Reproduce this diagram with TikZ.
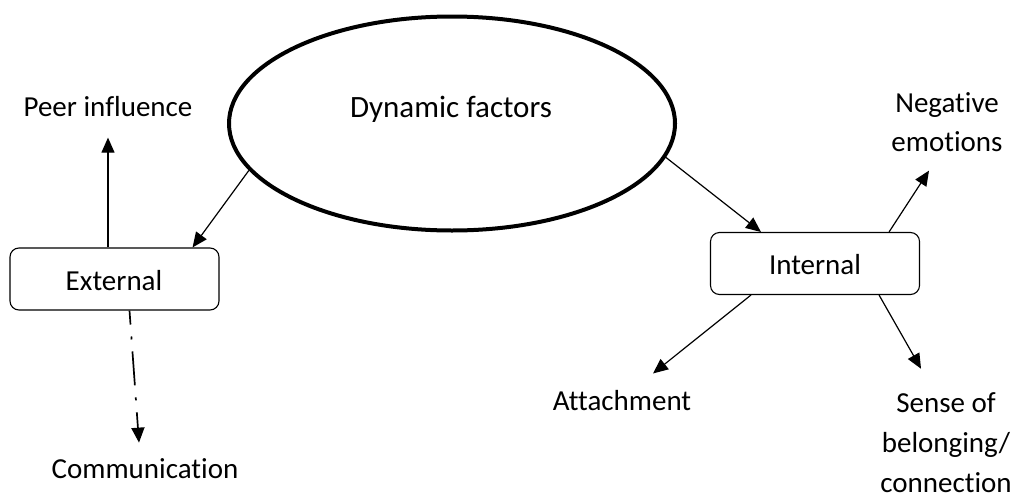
\documentclass[tikz,border=0pt]{standalone}
\usepackage{fontspec}
\setmainfont[Ligatures=NoCommon]{Carlito}
\usetikzlibrary{shapes.geometric,arrows.meta}
\begin{document}
\begin{tikzpicture}[x=0.5pt,y=-0.5pt,
  lbl/.style={inner sep=0pt,font=\fontsize{14.5}{19.5}\selectfont,align=center},
  boxn/.style={draw,line width=0.55pt,rounded corners=4.5pt,minimum width=104.5pt,minimum height=31pt,inner sep=0pt,font=\fontsize{14.5}{17}\selectfont},
  arr/.style={line width=0.6pt,-{Triangle[length=7.5pt,width=6.5pt]}},
  dashdot/.style={line width=0.85pt,dash pattern=on 17pt off 6pt on 1.5pt off 6pt,dash phase=10pt}]
\useasboundingbox (0,0) rectangle (1015,498);
% central ellipse
\node[ellipse,draw,line width=2pt,minimum width=223pt,minimum height=107pt,inner sep=0pt] (ell) at (452,123.5) {};
\node[lbl,font=\fontsize{15.5}{19}\selectfont,anchor=base] (dyn) at (451,117) {Dynamic factors};
% boxes
\node[boxn] (ext) at (114.5,279) {};
\node[lbl,anchor=base] (extt) at (114,290) {External};
\node[boxn] (int) at (815,263.5) {};
\node[lbl,anchor=base] (intt) at (815,274) {Internal};
% leaf labels
\node[lbl,anchor=base] (peer) at (108,116) {Peer influence};
\node[lbl,anchor=base] (comm) at (145,478) {Communication};
\node[lbl,anchor=base] (neg) at (947,151) {Negative\\emotions};
\node[lbl,anchor=base] (att) at (622,410) {Attachment};
\node[lbl,font=\fontsize{14.5}{20}\selectfont,anchor=base] (sen) at (946,492) {Sense of\\belonging/\\connection};
% connectors
\draw[arr] (ell.193) -- ([xshift=-13.5pt]ext.north east);
\draw[arr] (ell.-9) -- ([xshift=25.5pt]int.north west);
\draw[arr] (ext.north -| peer.south) -- ([yshift=-10.5pt]peer.south);
\draw[dashdot,-{Triangle[length=7.5pt,width=6.5pt]}] ([xshift=7.5pt]ext.south) -- ([xshift=-3pt,yshift=7.5pt]comm.north);
\draw[arr] ([xshift=-15.5pt]int.north east) -- ([xshift=-9pt,yshift=-9.5pt]neg.south);
\draw[arr] ([xshift=20.5pt]int.south west) -- ([xshift=15.5pt,yshift=8pt]att.north);
\draw[arr] ([xshift=-20.5pt]int.south east) -- ([xshift=-12.5pt,yshift=11.5pt]sen.north);
\end{tikzpicture}
\end{document}
